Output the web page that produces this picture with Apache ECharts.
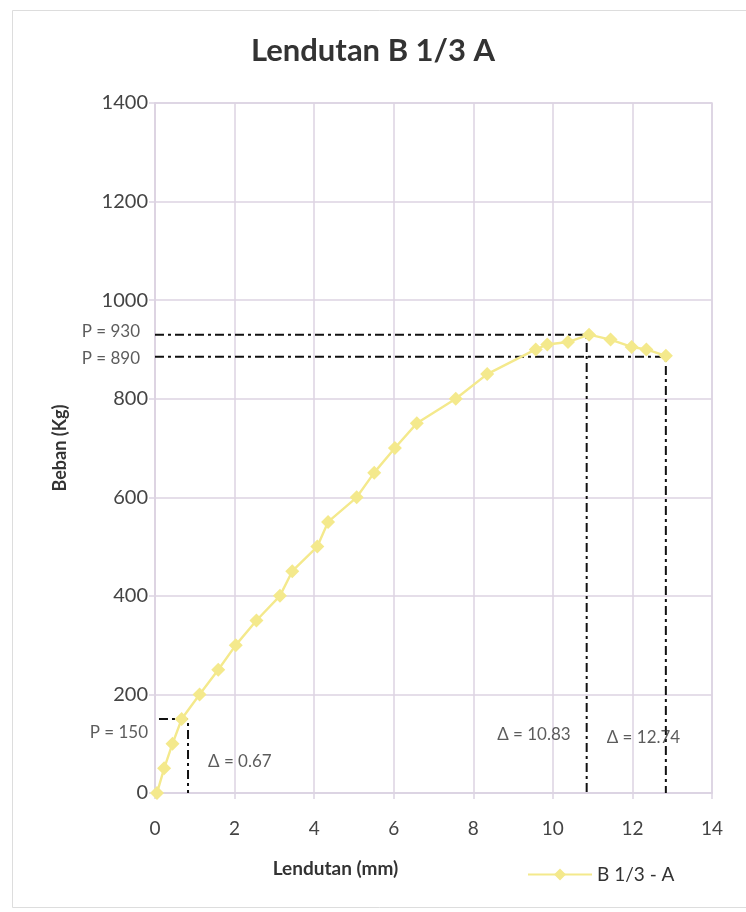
<!DOCTYPE html>
<html><head><meta charset="utf-8">
<script src="https://cdn.jsdelivr.net/npm/echarts@6/dist/echarts.min.js"></script>
<style>html,body{margin:0;padding:0;background:#fff}#c{width:746px;height:912px}</style>
</head><body><div id="c"></div>
<script>
const titleText = 'Lendutan B 1/3 A';
const seriesName = 'B 1/3 - A';
const xName = 'Lendutan (mm)';
const yName = 'Beban (Kg)';
const deflection = [0.05, 0.23, 0.44, 0.67, 1.12, 1.59, 2.03, 2.55, 3.14, 3.45, 4.08, 4.35, 5.07, 5.51, 6.03, 6.58, 7.56, 8.35, 9.57, 9.86, 10.38, 10.91, 11.45, 11.98, 12.35, 12.84];
const load =       [0,    50,   100,  150,  200,  250,  300,  350,  400,  450,  500,  550,  600,  650,  700,  750,  800,  850,  900,  910,  915,  930,  920,  905,  900,  887];
const xTicks = [0, 2, 4, 6, 8, 10, 12, 14];
const yTicks = [0, 200, 400, 600, 800, 1000, 1200, 1400];
// reference lines [x, y] in data units
const line150 = [[0.1, 150], [0.83, 150], [0.83, 0]];
const line930 = [[0, 930], [10.85, 930], [10.85, 0]];
const line890 = [[0, 885], [12.84, 885], [12.84, 0]];
const pLabels = ['P = 150', 'P = 930', 'P = 890'];
const pPos = [[0, 150], [0, 930], [0, 885]];
const pShift = [[0, 13], [0, -3], [0, 2]];
const deltaLabels = ['\u0394 = 0.67', '\u0394 = 10.83', '\u0394 = 12.74'];
const deltaPos = [[0.83, 63], [10.85, 118], [10.85, 113]];
const deltaSide = ['right', 'left', 'right'];

const font = 'Lato, "Open Sans", sans-serif';
const gridCol = '#dcd3e2';
const dash = {color: '#111', width: 2, type: [9, 4, 3, 4]};
function refSeries(pts) {
  return {type: 'line', data: pts, symbol: 'none', lineStyle: dash, silent: true, z: 3};
}
const chart = echarts.init(document.getElementById('c'));
chart.setOption({
  backgroundColor: '#fff',
  animation: false,
  title: {text: titleText, left: 'center', top: 30, itemGap: 0, textStyle: {fontFamily: font, fontSize: 31, fontWeight: 'bold', color: '#333'}},
  graphic: [{type: 'rect', left: 10, top: 8, shape: {width: 735, height: 897}, style: {fill: 'none', stroke: '#ddd', lineWidth: 1}, silent: true}],
  grid: {left: 155, right: 34, top: 103, bottom: 119, show: true, borderColor: gridCol, borderWidth: 1.5},
  legend: {data: [seriesName], left: 522, top: 860, itemWidth: 64, itemHeight: 15, itemGap: 4, textStyle: {fontFamily: font, fontSize: 19, color: '#333'}},
  xAxis: {type: 'value', min: 0, max: 14, interval: 2, name: xName, nameLocation: 'middle', nameGap: 66,
    nameTextStyle: {fontFamily: font, fontSize: 19, fontWeight: 'bold', color: '#333', padding: [0, 196, 0, 0]},
    axisLine: {show: true, lineStyle: {color: gridCol, width: 1.5}}, axisTick: {show: true, length: 6, lineStyle: {color: gridCol, width: 1.5}},
    axisLabel: {fontFamily: font, fontSize: 19, color: '#444', margin: 26, formatter: v => xTicks.includes(v) ? String(v) : ''},
    splitLine: {show: true, lineStyle: {color: gridCol, width: 1.5}}},
  yAxis: {type: 'value', min: 0, max: 1400, interval: 200, name: yName, nameLocation: 'middle', nameGap: 86, nameRotate: 90,
    nameTextStyle: {fontFamily: font, fontSize: 18, fontWeight: 'bold', color: '#333'},
    axisLine: {show: true, lineStyle: {color: gridCol, width: 1.5}}, axisTick: {show: true, length: 6, lineStyle: {color: gridCol, width: 1.5}},
    axisLabel: {fontFamily: font, fontSize: 20, color: '#444', margin: 7, formatter: v => yTicks.includes(v) ? String(v) : ''},
    splitLine: {show: true, lineStyle: {color: gridCol, width: 1.5}}},
  series: [
    refSeries(line150),
    refSeries(line930),
    refSeries(line890),
    {type: 'scatter', symbolSize: 0, silent: true, z: 4,
      data: deltaPos.map((p, i) => ({value: p, label: {show: true, formatter: deltaLabels[i], position: deltaSide[i], distance: deltaSide[i] === 'right' ? 20 : 16, color: '#333', fontSize: 17, fontFamily: font}}))},
    {type: 'scatter', symbolSize: 0, silent: true, z: 4,
      data: pPos.map((p, i) => ({value: p, label: {show: true, formatter: pLabels[i], position: 'left', offset: pShift[i], distance: i === 0 ? 7 : 15, color: '#333', fontSize: 17, fontFamily: font}}))},
    {name: seriesName, type: 'line', data: deflection.map((x, i) => [x, load[i]]), symbol: 'diamond', symbolSize: 14,
      itemStyle: {color: '#f4e98c'}, lineStyle: {color: '#f4e98c', width: 2.4}, z: 5}
  ]
});
</script></body></html>
